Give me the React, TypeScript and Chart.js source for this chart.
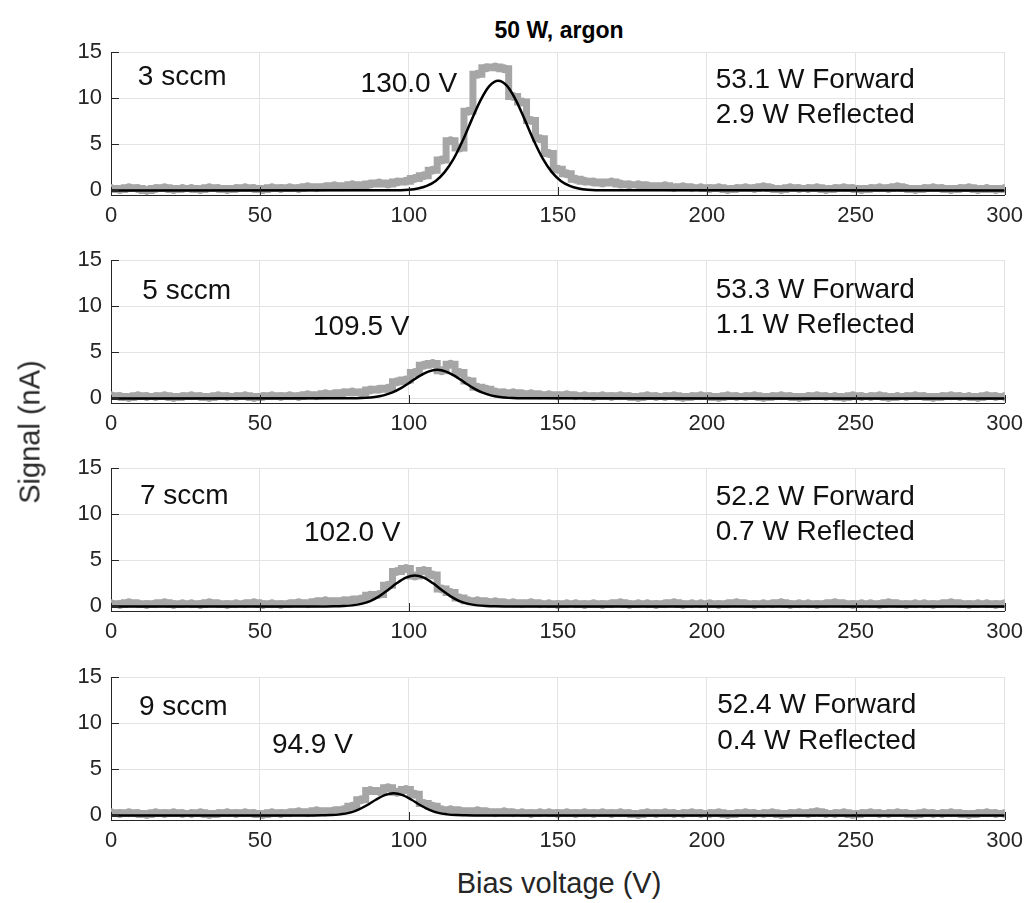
import React, { useEffect, useRef } from "react";
import { Chart, registerables } from "chart.js";

Chart.register(...registerables);

// ---------- data ----------
const biasX = [0,3,6,9,12,15,18,21,24,27,30,33,36,39,42,45,48,51,54,57,60,63,66,69,72,75,78,81,84,87,90,93,96,99,102,105,108,111,114,117,120,123,126,129,132,135,138,141,144,147,150,153,156,159,162,165,168,171,174,177,180,183,186,189,192,195,198,201,204,207,210,213,216,219,222,225,228,231,234,237,240,243,246,249,252,255,258,261,264,267,270,273,276,279,282,285,288,291,294,297,300];

const signal3 = [
  0.2,0.1,0.3,0.2,0.0,0.2,0.3,0.1,0.2,0.2,0.1,0.3,0.2,0.1,0.2,0.3,0.2,0.1,0.3,0.2,
  0.3,0.2,0.4,0.3,0.4,0.5,0.4,0.6,0.5,0.7,0.8,0.7,0.9,1.0,
  1.3,1.6,2.2,3.3,5.4,4.6,8.6,12.6,13.3,13.4,13.2,10.2,9.6,7.6,5.6,4.0,2.3,1.8,1.2,1.0,
  0.9,0.8,0.9,0.7,0.6,0.6,0.5,0.4,0.5,0.3,0.4,0.3,0.3,
  0.2,0.3,0.1,0.2,0.3,0.2,0.4,0.2,0.1,0.3,0.2,0.2,0.3,0.1,0.2,0.3,0.2,0.1,0.2,0.3,0.2,0.4,0.2,0.1,0.2,0.3,0.2,0.1,0.2,0.3,0.1,0.2,0.1,0.2
];
const signal5 = [
  0.3,0.2,0.1,0.3,0.2,0.2,0.3,0.1,0.2,0.3,0.2,0.1,0.3,0.2,0.2,0.3,0.1,0.2,0.3,0.2,
  0.3,0.2,0.4,0.3,0.5,0.5,0.6,0.7,0.6,0.9,1.0,1.1,1.8,2.0,
  2.8,3.6,3.8,3.0,3.7,2.8,1.9,1.2,1.0,0.7,0.6,0.6,0.5,0.5,0.4,0.4,0.3,0.4,0.3,0.3,
  0.2,0.3,0.2,0.3,0.2,0.1,0.3,0.2,0.2,0.3,0.1,0.2,0.3,
  0.2,0.1,0.3,0.2,0.2,0.3,0.1,0.2,0.3,0.2,0.1,0.2,0.3,0.2,0.2,0.1,0.3,0.2,0.2,0.3,0.1,0.2,0.2,0.3,0.2,0.1,0.2,0.3,0.2,0.2,0.1,0.3,0.2,0.2
];
const signal7 = [
  0.3,0.2,0.4,0.3,0.2,0.3,0.4,0.2,0.3,0.3,0.2,0.4,0.3,0.2,0.3,0.3,0.4,0.2,0.3,0.2,
  0.3,0.4,0.3,0.5,0.6,0.5,0.6,0.7,0.8,1.2,1.3,2.3,3.8,4.1,
  3.3,3.9,3.4,1.9,1.5,0.9,0.6,0.6,0.5,0.5,0.4,0.4,0.3,0.4,0.3,0.3,0.2,0.3,0.3,0.2,
  0.3,0.2,0.3,0.4,0.2,0.3,0.3,0.2,0.3,0.4,0.2,0.3,0.3,
  0.3,0.2,0.3,0.4,0.3,0.2,0.3,0.3,0.4,0.2,0.3,0.3,0.2,0.3,0.4,0.3,0.2,0.3,0.3,0.2,0.4,0.3,0.2,0.3,0.3,0.2,0.3,0.4,0.3,0.2,0.3,0.3,0.2,0.3
];
const signal9 = [
  0.3,0.2,0.3,0.2,0.1,0.3,0.2,0.3,0.2,0.2,0.3,0.1,0.2,0.3,0.2,0.3,0.2,0.1,0.3,0.2,
  0.3,0.4,0.3,0.5,0.4,0.5,0.6,1.0,1.7,2.7,2.6,3.0,2.5,2.8,
  2.3,1.3,1.0,0.6,0.6,0.5,0.4,0.5,0.4,0.3,0.4,0.3,0.3,0.2,0.3,0.3,0.2,0.3,0.2,0.3,
  0.2,0.3,0.2,0.3,0.2,0.1,0.3,0.2,0.3,0.2,0.2,0.3,0.2,
  0.2,0.3,0.1,0.2,0.3,0.2,0.2,0.3,0.1,0.2,0.3,0.2,0.4,0.2,0.2,0.3,0.1,0.2,0.3,0.2,0.2,0.3,0.2,0.1,0.3,0.2,0.2,0.3,0.2,0.1,0.2,0.3,0.2,0.2
];

const fit3X = [0,94,100,103,106,109,112,115,118,121,124,127,130,133,136,139,142,145,148,151,154,157,160,166,300];
const fit3Y = [0,0.01,0.08,0.21,0.49,1.03,1.98,3.42,5.36,7.60,9.75,11.32,11.9,11.32,9.75,7.60,5.36,3.42,1.98,1.03,0.49,0.21,0.08,0.01,0];
const fit5X = [0,79.5,82.5,85.5,88.5,91.5,94.5,97.5,100.5,103.5,106.5,109.5,112.5,115.5,118.5,121.5,124.5,127.5,130.5,133.5,136.5,139.5,300];
const fit5Y = [0,0.01,0.02,0.06,0.15,0.33,0.65,1.14,1.77,2.42,2.91,3.1,2.91,2.42,1.77,1.14,0.65,0.33,0.15,0.06,0.02,0.01,0];
const fit7X = [0,72,75,78,81,84,87,90,93,96,99,102,105,108,111,114,117,120,123,126,129,132,300];
const fit7Y = [0,0,0.01,0.04,0.11,0.27,0.58,1.09,1.78,2.53,3.12,3.35,3.12,2.53,1.78,1.09,0.58,0.27,0.11,0.04,0.01,0,0];
const fit9X = [0,67.9,70.9,73.9,76.9,79.9,82.9,85.9,88.9,91.9,94.9,97.9,100.9,103.9,106.9,109.9,112.9,115.9,118.9,121.9,300];
const fit9Y = [0,0,0.01,0.03,0.11,0.27,0.60,1.10,1.70,2.20,2.4,2.20,1.70,1.10,0.60,0.27,0.11,0.03,0.01,0,0];

const flowLabels = ["3 sccm", "5 sccm", "7 sccm", "9 sccm"];
const peakLabels = ["130.0 V", "109.5 V", "102.0 V", "94.9 V"];
const forwardLabels = ["53.1 W Forward", "53.3 W Forward", "52.2 W Forward", "52.4 W Forward"];
const reflectedLabels = ["2.9 W Reflected", "1.1 W Reflected", "0.7 W Reflected", "0.4 W Reflected"];

const xTickValues = [0, 50, 100, 150, 200, 250, 300];
const yTickValues = [0, 5, 10, 15];

// ---------- layout ----------
const FONT = '"Liberation Sans", Arial, Helvetica, sans-serif';
const PANEL_TOPS = [50, 258, 466, 675];
const CANVAS_H = 210;
const TOP_PAD = 20;
const PLOT_H = 145;

// annotation anchor positions (data coordinates)
const notePos = [
  { flow: [9, 12.3], peak: [100, 11.5], fwd: [203, 12.0], refl: [203, 8.15] },
  { flow: [10.5, 11.6], peak: [84, 7.7], fwd: [203, 11.7], refl: [203, 7.9] },
  { flow: [9.7, 12.0], peak: [81, 7.9], fwd: [203, 11.8], refl: [203, 8.0] },
  { flow: [9.4, 11.7], peak: [67.6, 7.6], fwd: [203.5, 11.9], refl: [203.5, 8.0] },
];

const signals = [signal3, signal5, signal7, signal9];
const fitsX = [fit3X, fit5X, fit7X, fit9X];
const fitsY = [fit3Y, fit5Y, fit7Y, fit9Y];

const decorPlugin = {
  id: "panelDecor",
  afterDraw(chart: any, _args: any, opts: any) {
    const { ctx, chartArea, scales } = chart;
    const xs = scales.x;
    const ys = scales.y;
    ctx.save();
    ctx.strokeStyle = "#262626";
    ctx.lineWidth = 1;
    ctx.beginPath();
    for (const t of xTickValues) {
      const px = Math.round(xs.getPixelForValue(t)) + 0.5;
      ctx.moveTo(px, chartArea.bottom);
      ctx.lineTo(px, chartArea.bottom - 8);
    }
    for (const t of yTickValues) {
      const py = Math.round(ys.getPixelForValue(t)) + 0.5;
      ctx.moveTo(chartArea.left, py);
      ctx.lineTo(chartArea.left + 8, py);
    }
    ctx.stroke();
    ctx.fillStyle = "#111";
    ctx.font = `28px ${FONT}`;
    ctx.textBaseline = "middle";
    for (const n of opts.notes || []) {
      ctx.textAlign = n.align;
      ctx.fillText(n.text, xs.getPixelForValue(n.x), ys.getPixelForValue(n.y));
    }
    ctx.restore();
  },
};

function makeConfig(i: number): any {
  const p = notePos[i];
  const notes = [
    { text: flowLabels[i], x: p.flow[0], y: p.flow[1], align: "left" },
    { text: peakLabels[i], x: p.peak[0], y: p.peak[1], align: "center" },
    { text: forwardLabels[i], x: p.fwd[0], y: p.fwd[1], align: "left" },
    { text: reflectedLabels[i], x: p.refl[0], y: p.refl[1], align: "left" },
  ];
  return {
    type: "line",
    data: {
      datasets: [
        {
          label: "fit",
          data: fitsX[i].map((x, k) => ({ x, y: fitsY[i][k] })),
          borderColor: "#000",
          borderWidth: 2.5,
          pointRadius: 0,
          cubicInterpolationMode: "monotone",
          fill: false,
          order: 0,
        },
        {
          label: "signal",
          data: biasX.map((x, k) => ({ x, y: signals[i][k] })),
          borderColor: "#a6a6a6",
          backgroundColor: "#a6a6a6",
          borderWidth: 7,
          pointRadius: 4.5,
          pointBackgroundColor: "#a6a6a6",
          pointBorderWidth: 0,
          stepped: "middle",
          fill: false,
          order: 1,
        },
      ],
    },
    options: {
      animation: false,
      responsive: false,
      maintainAspectRatio: false,
      layout: { padding: { top: TOP_PAD, right: 24, bottom: 0, left: 0 } },
      plugins: {
        legend: { display: false },
        tooltip: { enabled: false },
        title: { display: false },
        panelDecor: { notes },
      },
      scales: {
        x: {
          type: "linear",
          min: 0,
          max: 300,
          afterBuildTicks: (s: any) => {
            s.ticks = xTickValues.map((v) => ({ value: v }));
          },
          afterFit: (s: any) => {
            s.height = CANVAS_H - TOP_PAD - PLOT_H;
          },
          grid: { color: "#e3e3e3", lineWidth: 1, drawTicks: false },
          border: { color: "#262626", width: 1 },
          ticks: {
            color: "#262626",
            font: { family: FONT, size: 22 },
            padding: 8,
            maxRotation: 0,
          },
        },
        y: {
          type: "linear",
          min: -0.5,
          max: 15,
          afterBuildTicks: (s: any) => {
            s.ticks = yTickValues.map((v) => ({ value: v }));
          },
          afterFit: (s: any) => {
            s.width = 111;
          },
          grid: { color: "#e3e3e3", lineWidth: 1, drawTicks: false },
          border: { color: "#262626", width: 1 },
          ticks: {
            color: "#262626",
            font: { family: FONT, size: 22 },
            padding: 9,
          },
        },
      },
    },
    plugins: [decorPlugin],
  };
}

export default function App() {
  const r0 = useRef<HTMLCanvasElement>(null);
  const r1 = useRef<HTMLCanvasElement>(null);
  const r2 = useRef<HTMLCanvasElement>(null);
  const r3 = useRef<HTMLCanvasElement>(null);
  const refs = [r0, r1, r2, r3];

  useEffect(() => {
    const charts = refs.map((r, i) => new Chart(r.current as HTMLCanvasElement, makeConfig(i)));
    return () => charts.forEach((c) => c.destroy());
  }, []);

  return (
    <div
      style={{
        position: "fixed",
        left: 0,
        top: 0,
        width: 1031,
        height: 903,
        background: "#fff",
        fontFamily: FONT,
        overflow: "hidden",
      }}
    >
      <div
        style={{
          position: "absolute",
          left: 559,
          top: 30,
          transform: "translate(-50%, -50%)",
          fontWeight: "bold",
          fontSize: 23,
          color: "#000",
          whiteSpace: "nowrap",
        }}
      >
        50 W, argon
      </div>
      {refs.map((r, i) => (
        <div
          key={i}
          style={{ position: "absolute", left: 0, top: PANEL_TOPS[i] - TOP_PAD, width: 1031, height: CANVAS_H }}
        >
          <canvas ref={r} width={1031} height={CANVAS_H} style={{ width: 1031, height: CANVAS_H, display: "block" }} />
        </div>
      ))}
      <div
        style={{
          position: "absolute",
          left: 30,
          top: 432,
          transform: "translate(-50%, -50%) rotate(-90deg)",
          fontSize: 29,
          color: "#262626",
          whiteSpace: "nowrap",
        }}
      >
        Signal (nA)
      </div>
      <div
        style={{
          position: "absolute",
          left: 559,
          top: 883,
          transform: "translate(-50%, -50%)",
          fontSize: 29,
          color: "#262626",
          whiteSpace: "nowrap",
        }}
      >
        Bias voltage (V)
      </div>
    </div>
  );
}
